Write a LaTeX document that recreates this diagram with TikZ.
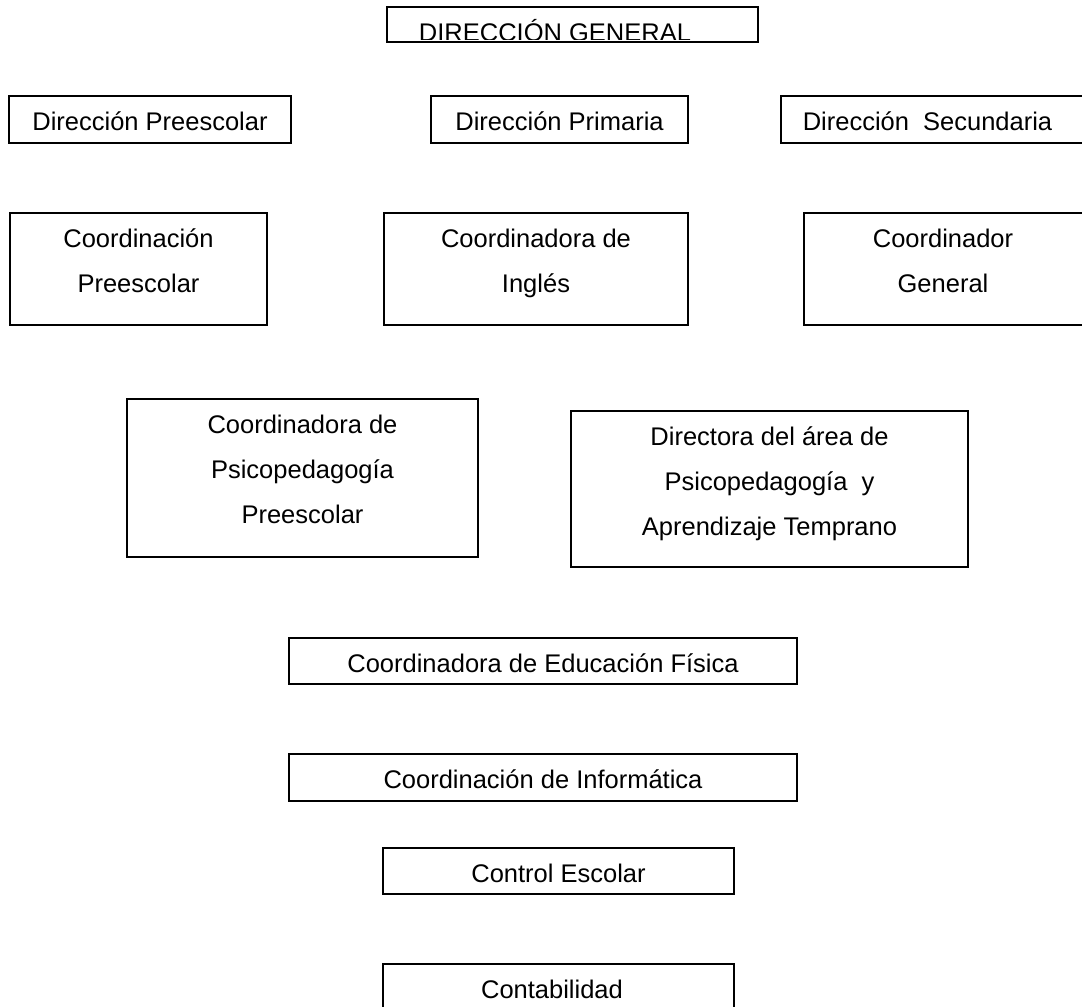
\documentclass[tikz,border=0pt]{standalone}
\usepackage{fontspec}
\setmainfont{Liberation Sans}

\begin{document}
\begin{tikzpicture}[x=1pt, y=-1pt, line width=1.5pt,
    txt/.style={font=\fontsize{25.5}{45}\selectfont, inner sep=0pt, anchor=base, align=center}]

  \useasboundingbox (0,0) rectangle (1082,1007);
  \clip (0,0) rectangle (1082,1007);

	\def\dt{34.5};
	\def\ls{45};

  % top box, its text is cut at the bottom
  \begin{scope}
  	\clip (387,7) rectangle (758,39);
  	\node[txt] (dg) at (555,7+\dt) {DIRECCIÓN GENERAL};
  \end{scope}
  \draw (387,7) rectangle (758,42);

  % \nl = lines - 1 (base anchor sits on the last line)
       \foreach \xa/\ya/\xb/\yb/\tx/\nl/\name/\txt in {
          9/96/291/143/150/0/dpre/{Dirección Preescolar},
          431/96/688/143/559.5/0/dpri/{Dirección Primaria},
          781/96/1100/143/927.5/0/dsec/{Dirección~~Secundaria},
          10/213/267/325/138.5/1/cpre/{Coordinación\\Preescolar},
          384/213/688/325/536/1/cing/{Coordinadora de\\Inglés},
          804/213/1100/325/943/1/cgen/{Coordinador\\General},
          127/399/478/557/302.5/2/cpsi/{Coordinadora de\\Psicopedagogía\\Preescolar},
          571/411/968/567/769.5/2/dpsi/{Directora del área de\\Psicopedagogía~~y\\Aprendizaje Temprano},
          289/638/797/684/543/0/cedf/{Coordinadora de Educación Física},
          289/754/797/801/543/0/cinf/{Coordinación de Informática},
          383/848/734/894/558.5/0/cesc/{Control Escolar},
          383/964/734/1020/552/0/cont/{Contabilidad}} {
         	\draw (\xa,\ya) rectangle (\xb,\yb);
         	\node[txt] (\name) at (\tx,\ya+\dt+\nl*\ls) {\txt};
   	 }

\end{tikzpicture}
\end{document}
